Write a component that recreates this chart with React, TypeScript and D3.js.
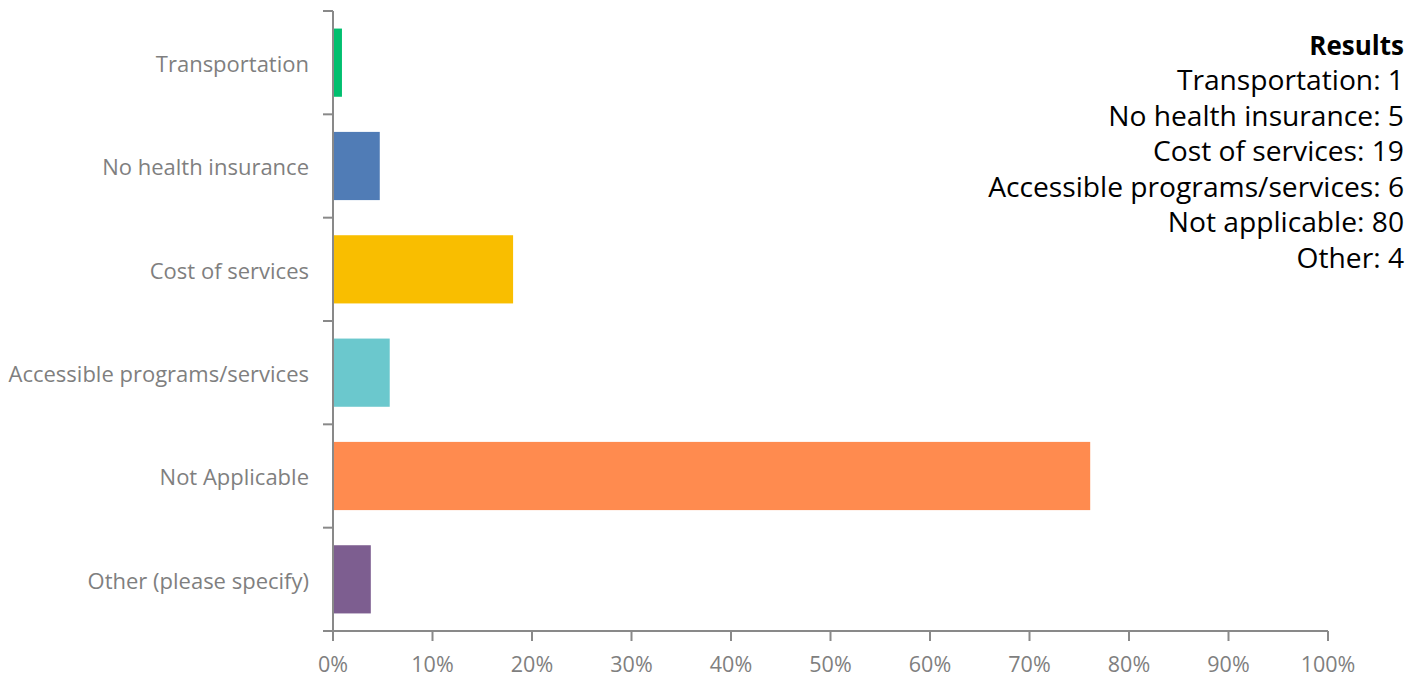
import React from "react";
import * as d3 from "d3";

const categories = [
  "Transportation",
  "No health insurance",
  "Cost of services",
  "Accessible programs/services",
  "Not Applicable",
  "Other (please specify)",
];
const percents = [0.9, 4.7, 18.1, 5.7, 76.1, 3.8];
const colors = ["#00BF6F", "#507CB6", "#F9BE00", "#6BC8CD", "#FF8B4F", "#7D5E90"];
const xTicks = [0, 10, 20, 30, 40, 50, 60, 70, 80, 90, 100];
const resultsTitle = "Results";
const resultsLines = [
  "Transportation: 1",
  "No health insurance: 5",
  "Cost of services: 19",
  "Accessible programs/services: 6",
  "Not applicable: 80",
  "Other: 4",
];

const W = 1420;
const H = 677;
const left = 333;
const right = 1328;
const top = 11;
const bottom = 631;
const axisColor = "#898989";
const labelColor = "#7f7f7f";

export default function App() {
  const x = d3.scaleLinear().domain([0, 100]).range([left, right]);
  const y = d3
    .scaleBand<string>()
    .domain(categories)
    .range([top, bottom])
    .paddingInner(0.34)
    .paddingOuter(0.17);
  const step = y.step();
  const font = "'Open Sans', sans-serif";

  return (
    <svg
      width={W}
      height={H}
      style={{ position: "absolute", left: 0, top: 0, background: "#fff" }}
    >
      {categories.map((c, i) => (
        <rect
          key={c}
          x={x(0)}
          y={y(c)}
          width={x(percents[i]) - x(0)}
          height={y.bandwidth()}
          fill={colors[i]}
        />
      ))}
      {/* y axis */}
      <line x1={left} x2={left} y1={top} y2={bottom} stroke={axisColor} strokeWidth={2} />
      {d3.range(categories.length + 1).map((i) => (
        <line
          key={"yt" + i}
          x1={left - 10}
          x2={left}
          y1={top + i * step}
          y2={top + i * step}
          stroke={axisColor}
          strokeWidth={2}
        />
      ))}
      {categories.map((c) => (
        <text
          key={"l" + c}
          x={left - 24}
          y={(y(c) as number) + y.bandwidth() / 2 + 1.5}
          dy="0.35em"
          textAnchor="end"
          fontFamily={font}
          fontSize={22}
          fill={labelColor}
        >
          {c}
        </text>
      ))}
      {/* x axis */}
      <line x1={left - 10} x2={right} y1={bottom} y2={bottom} stroke={axisColor} strokeWidth={2} />
      {xTicks.map((t) => (
        <g key={"xt" + t}>
          <line x1={x(t)} x2={x(t)} y1={bottom} y2={bottom + 10} stroke={axisColor} strokeWidth={2} />
          <text
            x={x(t)}
            y={672}
            textAnchor="middle"
            fontFamily={font}
            fontSize={21.5}
            fill={labelColor}
          >
            {t + "%"}
          </text>
        </g>
      ))}
      {/* results box */}
      <text
        x={1404}
        y={55}
        textAnchor="end"
        fontFamily={font}
        fontWeight="bold"
        fontSize={26}
        fill="#000"
      >
        {resultsTitle}
      </text>
      {resultsLines.map((l, i) => (
        <text
          key={"r" + i}
          x={1404}
          y={90 + i * 35.6}
          textAnchor="end"
          fontFamily={font}
          fontSize={28.2}
          fill="#000"
        >
          {l}
        </text>
      ))}
    </svg>
  );
}
